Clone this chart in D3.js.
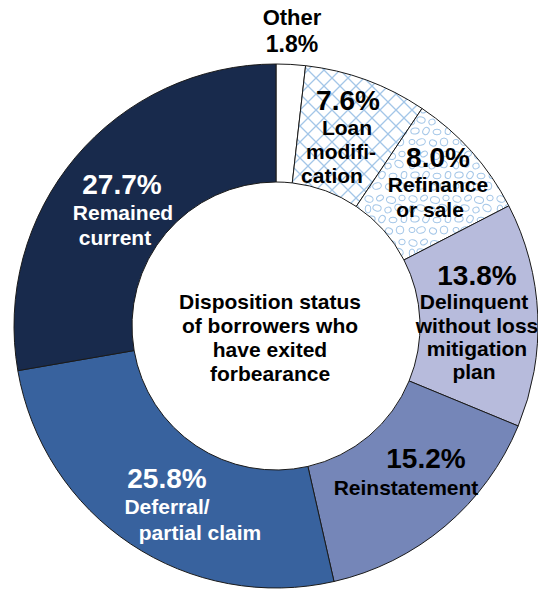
<!DOCTYPE html>
<html>
<head>
<meta charset="utf-8">
<script src="https://cdn.jsdelivr.net/npm/d3@7/dist/d3.min.js"></script>
<style>
  html, body { margin: 0; padding: 0; background: #ffffff; }
  svg { display: block; }
  text { font-family: "Liberation Sans", Arial, sans-serif; font-weight: bold; }
</style>
</head>
<body>
<svg id="chart" width="538" height="590"></svg>
<script>
// ---- Data ----
const categories = [
  "Other",
  "Loan modification",
  "Refinance or sale",
  "Delinquent without loss mitigation plan",
  "Reinstatement",
  "Deferral/partial claim",
  "Remained current"
];
const values = [1.8, 7.6, 8.0, 13.8, 15.2, 25.8, 27.7];
const labelLines = [
  ["Other"],
  ["Loan", "modifi-", "cation"],
  ["Refinance", "or sale"],
  ["Delinquent", "without loss", "mitigation", "plan"],
  ["Reinstatement"],
  ["Deferral/", "partial claim"],
  ["Remained", "current"]
];
const centerTitle = ["Disposition status", "of borrowers who", "have exited", "forbearance"];

// ---- Styles / layout (not data) ----
const fills = ["#ffffff", "url(#crosshatch)", "url(#blobs)", "#b7bbdc", "#7586b8", "#38629e", "#182a4c"];
const textColors = ["#000", "#000", "#000", "#000", "#000", "#fff", "#fff"];
const labelLayout = [
  { pct: [292, 52], pctSize: 23, lines: [[292, 25]], lineSize: 22 },
  { pct: [348, 110], pctSize: 28, lines: [[347, 135], [341, 159], [332, 183]], lineSize: 21 },
  { pct: [438, 167], pctSize: 28, lines: [[438, 192], [430, 217]], lineSize: 21 },
  { pct: [477, 285], pctSize: 28, lines: [[474, 309], [477, 333], [477, 356], [474, 379]], lineSize: 21 },
  { pct: [426, 468], pctSize: 28, lines: [[406, 495]], lineSize: 21 },
  { pct: [167, 488], pctSize: 28, lines: [[167, 514], [200, 540]], lineSize: 21 },
  { pct: [122, 194], pctSize: 28, lines: [[123, 220], [115, 245]], lineSize: 21 }
];

const cx = 276, cy = 326, outerR = 262, innerR = 144;

const svg = d3.select("#chart");
const defs = svg.append("defs");

// crosshatch pattern
const cs = 16;
const ch = defs.append("pattern")
  .attr("id", "crosshatch").attr("patternUnits", "userSpaceOnUse")
  .attr("width", cs).attr("height", cs);
ch.append("rect").attr("width", cs).attr("height", cs).attr("fill", "#fff");
ch.append("path").attr("d", `M0,0 L${cs},${cs} M${cs},0 L0,${cs}`)
  .attr("stroke", "#a3c6e8").attr("stroke-width", 1.3).attr("fill", "none");

// blob pattern
const bs = 44;
const bl = defs.append("pattern")
  .attr("id", "blobs").attr("patternUnits", "userSpaceOnUse")
  .attr("width", bs).attr("height", bs);
bl.append("rect").attr("width", bs).attr("height", bs).attr("fill", "#fff");
const blobShapes = [
  [5, 5, 4.2, 3.2, 20], [16, 4, 3.6, 2.6, -30], [27, 6, 4.6, 3.4, 10], [38, 4, 3.2, 2.8, 0],
  [4, 15, 2.8, 4, 0], [13, 14, 4.2, 3, 15], [24, 16, 3.2, 2.8, -20], [35, 14, 4.4, 3.4, 30],
  [7, 25, 4.2, 3, -10], [18, 25, 3, 3.8, 30], [29, 26, 4, 2.8, 0], [40, 25, 2.8, 3.6, 10],
  [4, 36, 3, 2.6, 0], [13, 36, 4.4, 3.2, -15], [25, 37, 3.6, 3, 25], [36, 36, 3.8, 4, 0]
];
blobShapes.forEach(b => {
  bl.append("ellipse")
    .attr("cx", b[0]).attr("cy", b[1]).attr("rx", b[2]).attr("ry", b[3])
    .attr("transform", `rotate(${b[4]},${b[0]},${b[1]})`)
    .attr("fill", "none").attr("stroke", "#a3c6e8").attr("stroke-width", 1);
});

const data = categories.map((c, i) => ({ category: c, value: values[i], idx: i }));

const pie = d3.pie().sort(null).value(d => d.value);
const arc = d3.arc().innerRadius(innerR).outerRadius(outerR);

const g = svg.append("g").attr("transform", `translate(${cx},${cy})`);
g.selectAll("path.slice")
  .data(pie(data))
  .join("path")
  .attr("class", "slice")
  .attr("d", arc)
  .attr("fill", d => fills[d.data.idx])
  .attr("stroke", "#1a1a1a")
  .attr("stroke-width", 1);

// labels
const lg = svg.append("g");
data.forEach((d, i) => {
  const L = labelLayout[i];
  lg.append("text")
    .attr("x", L.pct[0]).attr("y", L.pct[1])
    .attr("text-anchor", "middle")
    .attr("font-size", L.pctSize)
    .attr("fill", textColors[i])
    .text(d3.format(".1f")(d.value) + "%");
  labelLines[i].forEach((line, j) => {
    lg.append("text")
      .attr("x", L.lines[j][0]).attr("y", L.lines[j][1])
      .attr("text-anchor", "middle")
      .attr("font-size", L.lineSize)
      .attr("fill", textColors[i])
      .text(line);
  });
});

// center title
centerTitle.forEach((t, j) => {
  svg.append("text")
    .attr("x", 270).attr("y", 309 + j * 24)
    .attr("text-anchor", "middle")
    .attr("font-size", 21)
    .attr("fill", "#000")
    .text(t);
});
</script>
</body>
</html>
